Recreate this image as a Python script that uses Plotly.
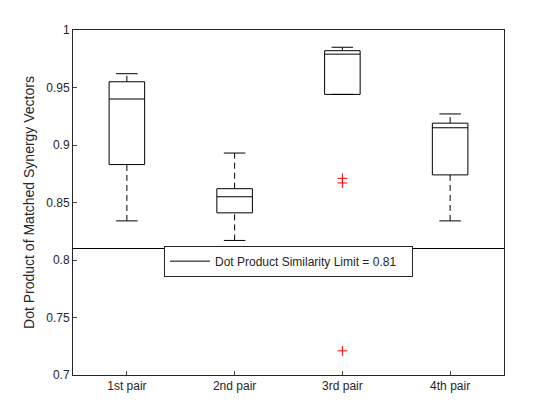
import plotly.graph_objects as go

# # Data
# -----------------------------------------------------|
pairs = ['1st pair', '2nd pair', '3rd pair', '4th pair']
lower = [0.834, 0.817, 0.944, 0.834]
q1 = [0.883, 0.841, 0.944, 0.874]
median = [0.940, 0.855, 0.979, 0.915]
q3 = [0.955, 0.862, 0.982, 0.919]
upper = [0.962, 0.893, 0.985, 0.927]
outlier_x = ['3rd pair', '3rd pair', '3rd pair']
outlier_y = [0.867, 0.871, 0.721]
limit = 0.81

BW = 0.165  # half box width
CW = 0.1    # half cap width

fig = go.Figure()
line = dict(color='black', width=1)
for i, p in enumerate(pairs):
    x = i + 1
    # box
    fig.add_trace(go.Scatter(
        x=[x - BW, x + BW, x + BW, x - BW, x - BW],
        y=[q1[i], q1[i], q3[i], q3[i], q1[i]],
        mode='lines', line=line, showlegend=False, hoverinfo='skip'))
    # median
    fig.add_trace(go.Scatter(
        x=[x - BW, x + BW], y=[median[i], median[i]],
        mode='lines', line=line, showlegend=False))
    # whiskers (dashed)
    for a, b in [(lower[i], q1[i]), (q3[i], upper[i])]:
        fig.add_trace(go.Scatter(
            x=[x, x], y=[a, b], mode='lines',
            line=dict(color='black', width=1, dash='6px,4px'),
            showlegend=False))
    # caps
    for v in [lower[i], upper[i]]:
        fig.add_trace(go.Scatter(
            x=[x - CW, x + CW], y=[v, v], mode='lines',
            line=line, showlegend=False))

# outliers
fig.add_trace(go.Scatter(
    x=[pairs.index(p) + 1 for p in outlier_x], y=outlier_y, mode='markers',
    marker=dict(symbol='cross-thin', size=7, line=dict(color='red', width=1)),
    showlegend=False))

# similarity limit
fig.add_trace(go.Scatter(
    x=[0.5, 4.5], y=[limit, limit], mode='lines', line=line,
    name='Dot Product Similarity Limit = %.2f   ' % limit))

fig.update_layout(
    width=560, height=420,
    margin=dict(l=65, r=64, t=22, b=53),
    paper_bgcolor='white', plot_bgcolor='white',
    font=dict(family='Liberation Sans, Arial', size=12, color='#262626'),
    legend=dict(x=0.5, y=0.33, xanchor='center', yanchor='middle',
                bordercolor='#262626', borderwidth=1, bgcolor='white',
                font=dict(size=12), itemwidth=40),
    xaxis=dict(range=[0.5, 4.5], tickvals=[1, 2, 3, 4], ticktext=pairs,
               showgrid=False, zeroline=False, showline=True, mirror=True,
               linecolor='#262626', ticks='inside', ticklen=4),
    yaxis=dict(range=[0.7, 1.0], tickvals=[0.7, 0.75, 0.8, 0.85, 0.9, 0.95, 1],
               ticktext=['0.7', '0.75', '0.8', '0.85', '0.9', '0.95', '1'],
               showgrid=False, zeroline=False, showline=True, mirror=True,
               linecolor='#262626', ticks='inside', ticklen=4,
               title=dict(text='Dot Product of Matched Synergy Vectors',
                          standoff=8)),
)

fig.write_html('out.html')
